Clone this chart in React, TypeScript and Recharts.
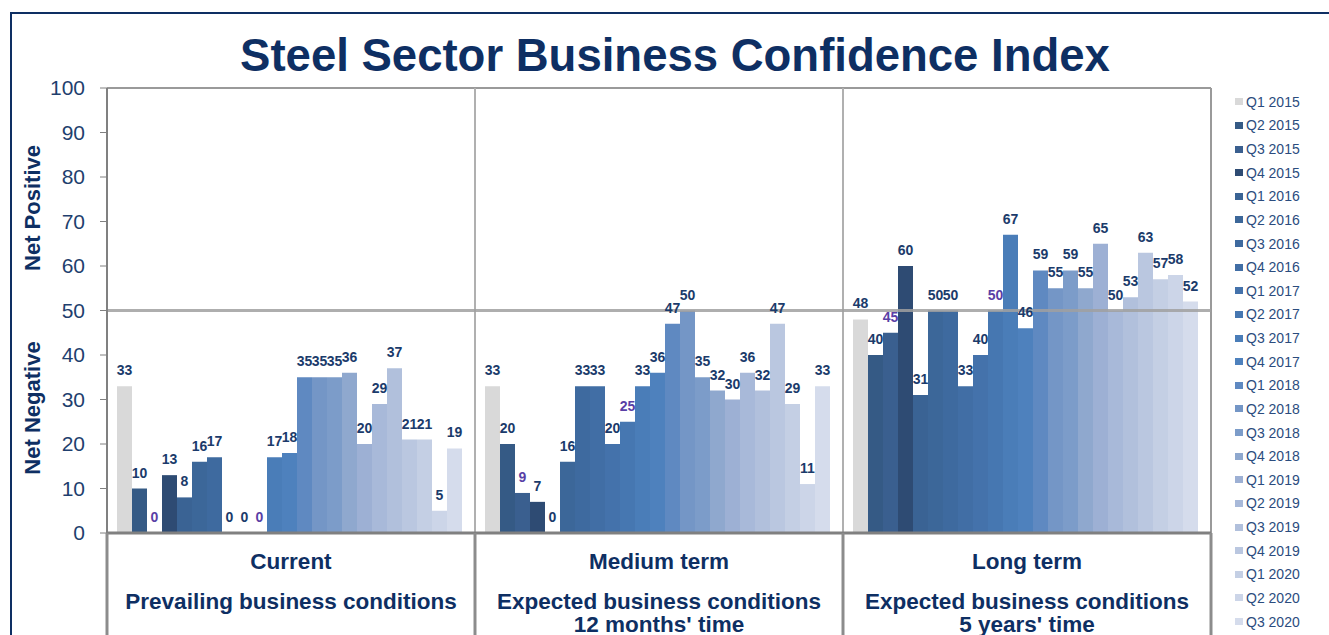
import React from 'react';
import { BarChart, Bar, XAxis, YAxis, ReferenceLine, LabelList } from 'recharts';

const categories = ['Current', 'Medium term', 'Long term'];
const subtitles = [
  ['Prevailing business conditions'],
  ['Expected business conditions', "12 months' time"],
  ['Expected business conditions', "5 years' time"],
];
const quarters = [
  'Q1 2015', 'Q2 2015', 'Q3 2015', 'Q4 2015',
  'Q1 2016', 'Q2 2016', 'Q3 2016', 'Q4 2016',
  'Q1 2017', 'Q2 2017', 'Q3 2017', 'Q4 2017',
  'Q1 2018', 'Q2 2018', 'Q3 2018', 'Q4 2018',
  'Q1 2019', 'Q2 2019', 'Q3 2019', 'Q4 2019',
  'Q1 2020', 'Q2 2020', 'Q3 2020',
];
const currentValues = [33, 10, 0, 13, 8, 16, 17, 0, 0, 0, 17, 18, 35, 35, 35, 36, 20, 29, 37, 21, 21, 5, 19];
const mediumValues = [33, 20, 9, 7, 0, 16, 33, 33, 20, 25, 33, 36, 47, 50, 35, 32, 30, 36, 32, 47, 29, 11, 33];
const longValues = [48, 40, 45, 60, 31, 50, 50, 33, 40, 50, 67, 46, 59, 55, 59, 55, 65, 50, 53, 63, 57, 58, 52];
const yTicks = [0, 10, 20, 30, 40, 50, 60, 70, 80, 90, 100];

const colors = [
  '#D9D9D9', '#355A85', '#3A5F8F', '#2E4B73',
  '#3A6394', '#3C6799', '#3E6A9F', '#416EA5',
  '#4472AB', '#4677B1', '#4A7DB8', '#4E81BD',
  '#5F89C1', '#7496C6', '#7C9CC9', '#8FA8CE',
  '#9DB0D4', '#A8B9D9', '#B1C0DC', '#BAC7E0',
  '#C4CFE4', '#CCD5E8', '#D5DCEC',
];
// two series have their labels in purple
const purpleLabels = ['Q3 2015', 'Q2 2017'];

const navy = '#0E2F63';
const labelNavy = '#1B3B6B';
const font = '"Liberation Sans", Arial, sans-serif';

const seriesByCategory = [currentValues, mediumValues, longValues];
const data = categories.map((name, ci) => {
  const row: Record<string, string | number> = { name };
  quarters.forEach((q, i) => { row[q] = seriesByCategory[ci][i]; });
  return row;
});

const plotLeft = 107;
const plotRight = 1211;
const bandWidth = (plotRight - plotLeft) / categories.length;
const lineOffsets = [36, 76, 99];

function CategoryTick(props: any) {
  const { x, y, index } = props;
  const lines = [categories[index], ...subtitles[index]];
  const left = x - bandWidth / 2;
  const right = x + bandWidth / 2;
  return (
    <g>
      <line x1={left} y1={y} x2={left} y2={y + 110} stroke="#8C8C8C" strokeWidth={3} />
      {index === categories.length - 1 && (
        <line x1={right} y1={y} x2={right} y2={y + 110} stroke="#8C8C8C" strokeWidth={3} />
      )}
      {lines.map((t, i) => (
        <text
          key={i}
          x={x}
          y={y + lineOffsets[i]}
          textAnchor="middle"
          fill={navy}
          fontFamily={font}
          fontWeight="bold"
          fontSize={22.5}
        >
          {t}
        </text>
      ))}
    </g>
  );
}

export default function App() {
  return (
    <div style={{ position: 'absolute', left: 0, top: 0, width: 1329, height: 635, overflow: 'hidden', background: '#fff', fontFamily: font }}>
      <div style={{ position: 'absolute', left: 10, top: 12, width: 1400, height: 700, border: `2px solid ${navy}` }} />
      <div style={{ position: 'absolute', left: 0, top: 30, width: 1350, textAlign: 'center', color: navy, fontWeight: 'bold', fontSize: 45.5 }}>
        Steel Sector Business Confidence Index
      </div>
      <div style={{ position: 'absolute', left: 33, top: 208, transform: 'translate(-50%, -50%) rotate(-90deg)', whiteSpace: 'nowrap', color: navy, fontWeight: 'bold', fontSize: 22 }}>
        Net Positive
      </div>
      <div style={{ position: 'absolute', left: 33, top: 408, transform: 'translate(-50%, -50%) rotate(-90deg)', whiteSpace: 'nowrap', color: navy, fontWeight: 'bold', fontSize: 22 }}>
        Net Negative
      </div>

      <div style={{ position: 'absolute', left: 0, top: 0 }}>
        <BarChart
          width={1329}
          height={635}
          data={data}
          margin={{ top: 88, right: 1329 - plotRight, bottom: 0, left: 0 }}
          barGap={0}
          barCategoryGap={10}
        >
          <XAxis
            dataKey="name"
            height={102}
            axisLine={{ stroke: '#808080', strokeWidth: 3 }}
            tickLine={false}
            tickSize={0}
            tickMargin={0}
            tick={<CategoryTick />}
            interval={0}
          />
          <YAxis
            width={plotLeft}
            domain={[0, 100]}
            ticks={yTicks}
            interval={0}
            axisLine={{ stroke: '#808080', strokeWidth: 2 }}
            tickLine={{ stroke: '#808080' }}
            tickSize={7}
            tickMargin={15}
            tick={{ fill: '#1F3F6E', fontSize: 21, fontFamily: font }}
          />
          <ReferenceLine y={100} stroke="#9A9A9A" strokeWidth={2} />
          <ReferenceLine x="Medium term" position="start" stroke="#B0B0B0" strokeWidth={2} />
          <ReferenceLine x="Long term" position="start" stroke="#B0B0B0" strokeWidth={2} />
          <ReferenceLine x="Long term" position="end" stroke="#9A9A9A" strokeWidth={2} />
          {quarters.map((q, i) => (
            <Bar key={q} dataKey={q} fill={colors[i]} minPointSize={0.01} isAnimationActive={false}>
              <LabelList
                dataKey={q}
                position="top"
                offset={11}
                fill={purpleLabels.includes(q) ? '#5A3FA6' : labelNavy}
                fontSize={14}
                fontWeight="bold"
                fontFamily={font}
              />
            </Bar>
          ))}
          <ReferenceLine y={50} stroke="#A0A0A0" strokeWidth={3} strokeOpacity={0.85} />
        </BarChart>
      </div>

      <div style={{ position: 'absolute', left: 1235, top: 90 }}>
        {quarters.map((q, i) => (
          <div key={q} style={{ display: 'flex', alignItems: 'center', height: 23.64, whiteSpace: 'nowrap' }}>
            <span style={{ display: 'inline-block', width: 8, height: 7, background: colors[i], marginRight: 3 }} />
            <span style={{ color: '#2B4C7E', fontSize: 14 }}>{q}</span>
          </div>
        ))}
      </div>
    </div>
  );
}
